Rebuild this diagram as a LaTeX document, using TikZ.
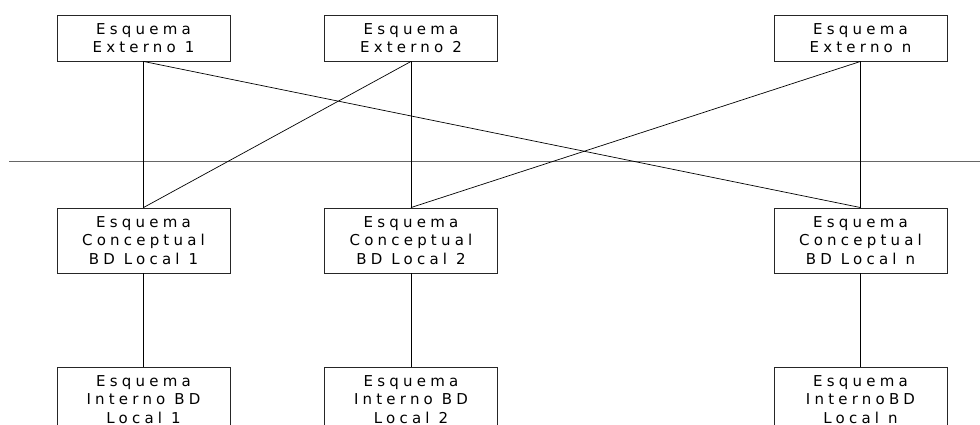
\documentclass[tikz,border=0pt]{standalone}
\usepackage{fontspec}
\newfontfamily\schemafont[LetterSpace=28]{DejaVu Sans}
\begin{document}
\begin{tikzpicture}[x=1pt,y=-1pt,
  schemabox/.style={draw=black!85, line width=0.9pt, fill=white,
    minimum width=173pt, inner sep=0pt, align=center,
    font=\schemafont\fontsize{15}{18.5}\selectfont},
  ext/.style={schemabox, minimum height=46pt},
  lvl/.style={schemabox, minimum height=65pt},
  link/.style={draw=black, line width=0.7pt}]
\path[use as bounding box, clip] (0,0) rectangle (980,425);

% external schemas
\node[ext] (e1) at (143.5,38) {Esquema\\Externo 1};
\node[ext] (e2) at (411,38) {Esquema\\Externo 2};
\node[ext] (en) at (860.5,38) {Esquema\\Externo n};

% conceptual schemas of the local databases
\node[lvl] (c1) at (143.5,240.5) {Esquema\\Conceptual\\BD Local 1};
\node[lvl] (c2) at (411,240.5) {Esquema\\Conceptual\\BD Local 2};
\node[lvl] (cn) at (860.5,240.5) {Esquema\\Conceptual\\BD Local n};

% internal schemas
\node[lvl] (i1) at (143.5,399.5) {Esquema\\Interno BD\\Local 1};
\node[lvl] (i2) at (411,399.5) {Esquema\\Interno BD\\Local 2};
\node[lvl] (in) at (860.5,399.5) {Esquema\\InternoBD\\Local n};

% dividing line
\coordinate (hl) at (9,161.5);
\coordinate (hr) at (980,161.5);
\draw[draw=black!60, line width=0.9pt] (hl) -- (hr);

% mappings external -> conceptual
\draw[link] (e1.south) -- (c1.north);
\draw[link] (e1.south) -- (cn.north);
\draw[link] (e2.south) -- (c1.north);
\draw[link] (e2.south) -- (c2.north);
\draw[link] (en.south) -- (c2.north);
\draw[link] (en.south) -- (cn.north);

% mappings conceptual -> internal
\draw[link] (c1.south) -- (i1.north);
\draw[link] (c2.south) -- (i2.north);
\draw[link] (cn.south) -- (in.north);
\end{tikzpicture}
\end{document}
